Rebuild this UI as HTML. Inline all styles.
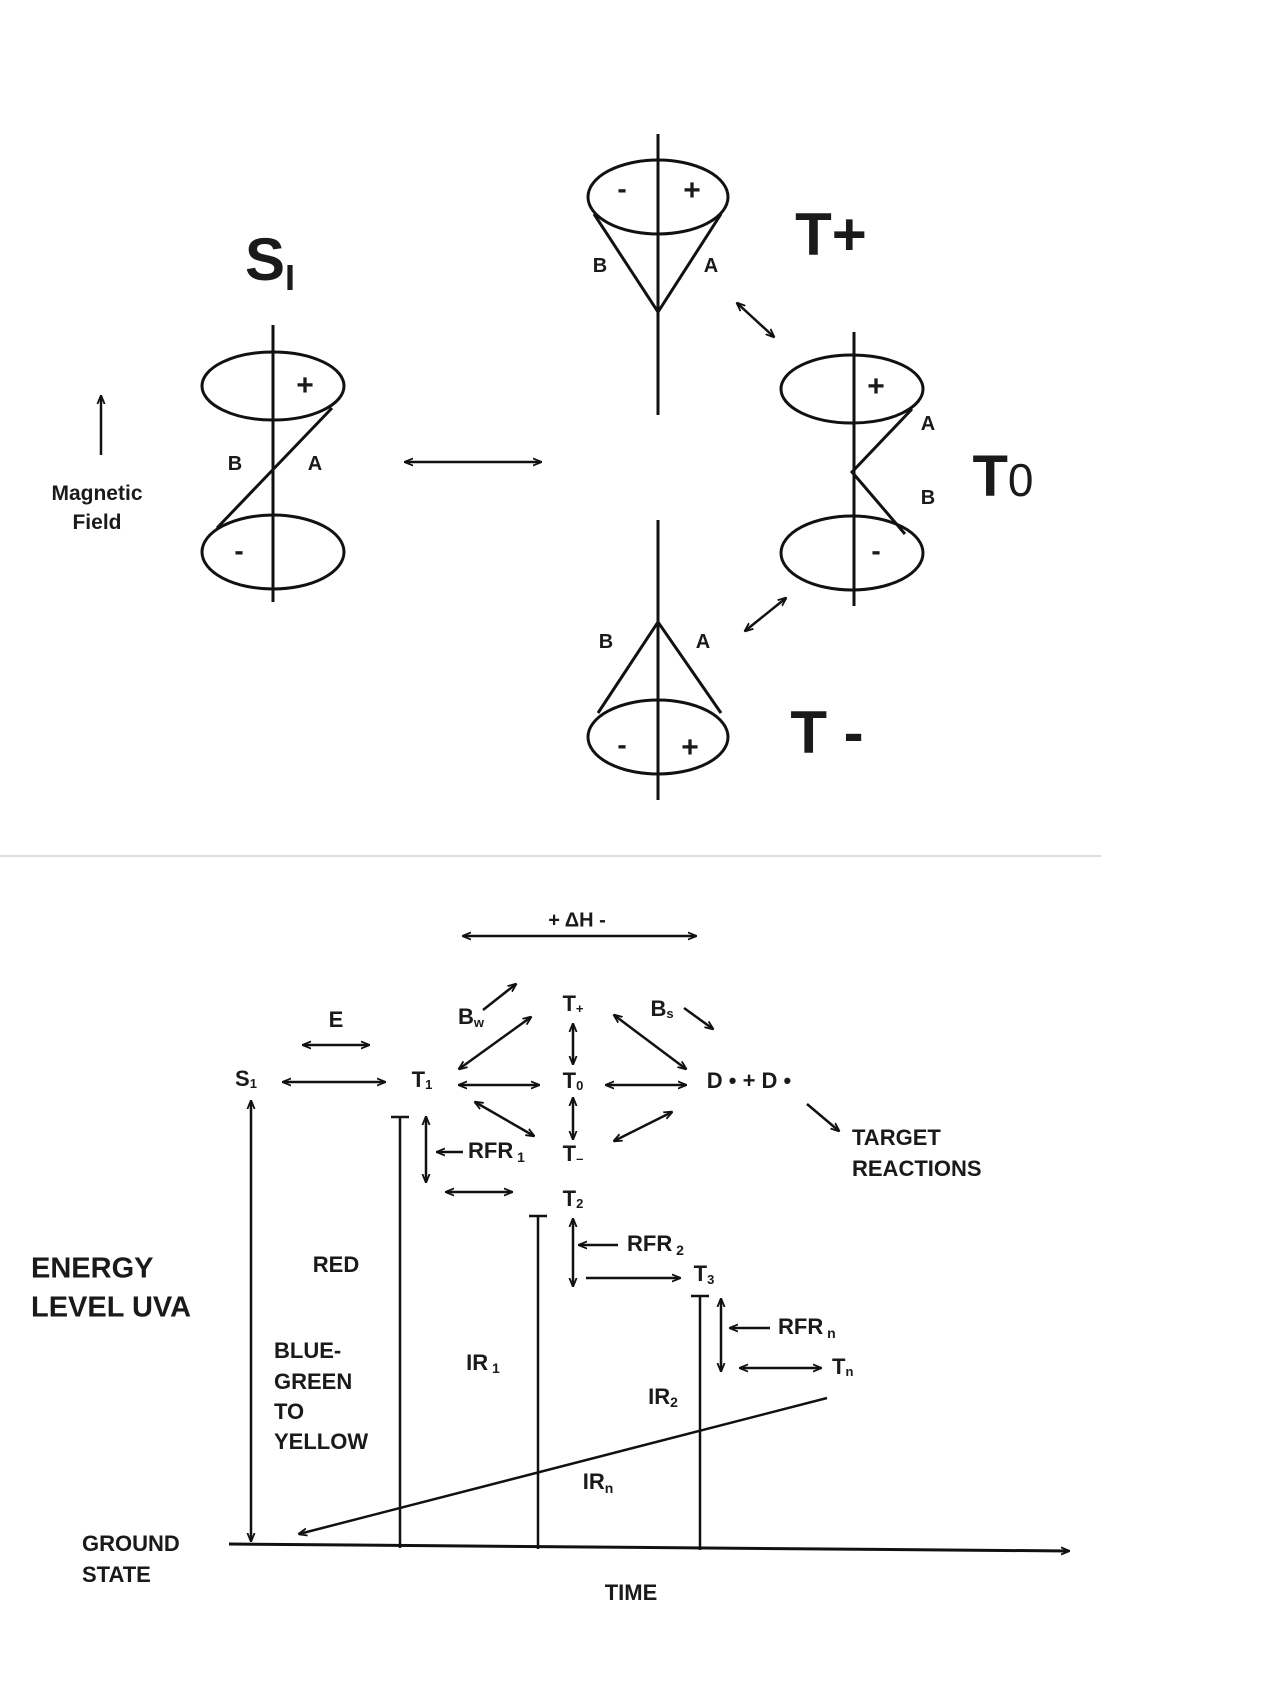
<!DOCTYPE html>
<html><head><meta charset="utf-8"><style>
html,body{margin:0;padding:0;background:#fff}
svg{display:block}
text{font-family:"Liberation Sans",Arial,sans-serif;font-weight:bold;fill:#1a1a1a}
</style></head><body>
<svg width="1284" height="1688" viewBox="0 0 1284 1688" xmlns="http://www.w3.org/2000/svg">
<defs>
<marker id="a" viewBox="0 0 10 10" refX="9" refY="5" markerWidth="9" markerHeight="9" orient="auto-start-reverse" markerUnits="userSpaceOnUse">
<path d="M0,1 L10,5 L0,9" fill="none" stroke="#111" stroke-width="2"/>
</marker>
</defs>
<g stroke="#111" stroke-width="3" fill="none">
<!-- S1 -->
<line x1="273" y1="325" x2="273" y2="602"/>
<ellipse cx="273" cy="386" rx="71" ry="34"/>
<ellipse cx="273" cy="552" rx="71" ry="37"/>
<polyline points="332,408 217,528"/>
<line x1="101" y1="455" x2="101" y2="396" marker-end="url(#a)" stroke-width="2.5"/>
<line x1="405" y1="462" x2="541" y2="462" marker-start="url(#a)" marker-end="url(#a)" stroke-width="2.5"/>
<!-- T+ -->
<line x1="658" y1="134" x2="658" y2="415"/>
<ellipse cx="658" cy="197" rx="70" ry="37"/>
<polyline points="594,214 658,312 721,214"/>
<line x1="737" y1="303" x2="774" y2="337" marker-start="url(#a)" marker-end="url(#a)" stroke-width="2.5"/>
<!-- T0 -->
<line x1="854" y1="332" x2="854" y2="606"/>
<ellipse cx="852" cy="389" rx="71" ry="34"/>
<ellipse cx="852" cy="553" rx="71" ry="37"/>
<polyline points="912,409 852,472 905,534"/>
<line x1="745" y1="631" x2="786" y2="598" marker-start="url(#a)" marker-end="url(#a)" stroke-width="2.5"/>
<!-- T- -->
<line x1="658" y1="520" x2="658" y2="800"/>
<ellipse cx="658" cy="737" rx="70" ry="37"/>
<polyline points="598,713 658,622 721,713"/>
</g>
<line x1="0" y1="856" x2="1101" y2="856" stroke="#ddd" stroke-width="2"/>
<g font-size="24">
<text x="270" y="280" font-size="60" text-anchor="middle">S<tspan font-size="36" dy="10">I</tspan></text>
<text x="305" y="395" text-anchor="middle" font-size="30">+</text>
<text x="239" y="560" text-anchor="middle" font-size="28">-</text>
<text x="235" y="470" text-anchor="middle" font-size="20">B</text>
<text x="315" y="470" text-anchor="middle" font-size="20">A</text>
<text x="97" y="500" text-anchor="middle" font-size="21">Magnetic</text>
<text x="97" y="529" text-anchor="middle" font-size="21">Field</text>
<text x="622" y="198" text-anchor="middle" font-size="28">-</text>
<text x="692" y="200" text-anchor="middle" font-size="30">+</text>
<text x="600" y="272" text-anchor="middle" font-size="20">B</text>
<text x="711" y="272" text-anchor="middle" font-size="20">A</text>
<text x="831" y="255" text-anchor="middle" font-size="60">T+</text>
<text x="876" y="396" text-anchor="middle" font-size="30">+</text>
<text x="876" y="560" text-anchor="middle" font-size="28">-</text>
<text x="928" y="430" text-anchor="middle" font-size="20">A</text>
<text x="928" y="504" text-anchor="middle" font-size="20">B</text>
<text x="1003" y="496" text-anchor="middle" font-size="58">T<tspan font-weight="normal" font-size="46">0</tspan></text>
<text x="622" y="754" text-anchor="middle" font-size="28">-</text>
<text x="690" y="757" text-anchor="middle" font-size="30">+</text>
<text x="606" y="648" text-anchor="middle" font-size="20">B</text>
<text x="703" y="648" text-anchor="middle" font-size="20">A</text>
<text x="827" y="753" text-anchor="middle" font-size="60">T -</text>
</g>
<!-- bottom diagram -->
<g stroke="#111" stroke-width="2.5" fill="none">
<line x1="463" y1="936" x2="696" y2="936" marker-start="url(#a)" marker-end="url(#a)"/>
<line x1="303" y1="1045" x2="369" y2="1045" marker-start="url(#a)" marker-end="url(#a)"/>
<line x1="283" y1="1082" x2="385" y2="1082" marker-start="url(#a)" marker-end="url(#a)"/>
<line x1="459" y1="1085" x2="539" y2="1085" marker-start="url(#a)" marker-end="url(#a)"/>
<line x1="606" y1="1085" x2="686" y2="1085" marker-start="url(#a)" marker-end="url(#a)"/>
<line x1="573" y1="1024" x2="573" y2="1064" marker-start="url(#a)" marker-end="url(#a)"/>
<line x1="573" y1="1098" x2="573" y2="1139" marker-start="url(#a)" marker-end="url(#a)"/>
<line x1="483" y1="1010" x2="516" y2="984" marker-end="url(#a)"/>
<line x1="459" y1="1069" x2="531" y2="1017" marker-start="url(#a)" marker-end="url(#a)"/>
<line x1="684" y1="1008" x2="713" y2="1029" marker-end="url(#a)"/>
<line x1="614" y1="1015" x2="686" y2="1069" marker-start="url(#a)" marker-end="url(#a)"/>
<line x1="475" y1="1102" x2="534" y2="1136" marker-start="url(#a)" marker-end="url(#a)"/>
<line x1="614" y1="1141" x2="672" y2="1112" marker-start="url(#a)" marker-end="url(#a)"/>
<line x1="807" y1="1104" x2="839" y2="1131" marker-end="url(#a)"/>
<!-- verticals -->
<line x1="400" y1="1117" x2="400" y2="1548"/>
<line x1="391" y1="1117" x2="409" y2="1117"/>
<line x1="538" y1="1216" x2="538" y2="1549"/>
<line x1="529" y1="1216" x2="547" y2="1216"/>
<line x1="700" y1="1296" x2="700" y2="1550"/>
<line x1="691" y1="1296" x2="709" y2="1296"/>
<line x1="426" y1="1117" x2="426" y2="1182" marker-start="url(#a)" marker-end="url(#a)"/>
<line x1="463" y1="1152" x2="437" y2="1152" marker-end="url(#a)"/>
<line x1="446" y1="1192" x2="512" y2="1192" marker-start="url(#a)" marker-end="url(#a)"/>
<line x1="573" y1="1219" x2="573" y2="1286" marker-start="url(#a)" marker-end="url(#a)"/>
<line x1="618" y1="1245" x2="579" y2="1245" marker-end="url(#a)"/>
<line x1="586" y1="1278" x2="680" y2="1278" marker-end="url(#a)"/>
<line x1="721" y1="1299" x2="721" y2="1371" marker-start="url(#a)" marker-end="url(#a)"/>
<line x1="770" y1="1328" x2="730" y2="1328" marker-end="url(#a)"/>
<line x1="740" y1="1368" x2="821" y2="1368" marker-start="url(#a)" marker-end="url(#a)"/>
<line x1="827" y1="1398" x2="299" y2="1534" marker-end="url(#a)"/>
<line x1="251" y1="1101" x2="251" y2="1541" marker-start="url(#a)" marker-end="url(#a)"/>
<line x1="229" y1="1544" x2="1069" y2="1551" marker-end="url(#a)" stroke-width="3"/>
</g>
<g font-size="22" dominant-baseline="middle">
<text x="577" y="921" text-anchor="middle" font-size="20">+ ΔH -</text>
<text x="336" y="1021" text-anchor="middle">E</text>
<text x="246" y="1080" text-anchor="middle">S<tspan font-size="13" dy="5">1</tspan></text>
<text x="422" y="1081" text-anchor="middle">T<tspan font-size="13" dy="5">1</tspan></text>
<text x="573" y="1082" text-anchor="middle">T<tspan font-size="13" dy="5">0</tspan></text>
<text x="573" y="1005" text-anchor="middle">T<tspan font-size="13" dy="5">+</tspan></text>
<text x="573" y="1155" text-anchor="middle">T<tspan font-size="13" dy="5">–</tspan></text>
<text x="471" y="1018" text-anchor="middle">B<tspan font-size="13" dy="6">w</tspan></text>
<text x="662" y="1010" text-anchor="middle">B<tspan font-size="13" dy="5">s</tspan></text>
<text x="749" y="1082" text-anchor="middle">D • + D •</text>
<text x="852" y="1139">TARGET</text>
<text x="852" y="1170">REACTIONS</text>
<text x="468" y="1152">RFR<tspan font-size="14" dy="6"> 1</tspan></text>
<text x="573" y="1200" text-anchor="middle">T<tspan font-size="13" dy="5">2</tspan></text>
<text x="627" y="1245">RFR<tspan font-size="14" dy="6"> 2</tspan></text>
<text x="704" y="1275" text-anchor="middle">T<tspan font-size="13" dy="6">3</tspan></text>
<text x="778" y="1328">RFR<tspan font-size="14" dy="6"> n</tspan></text>
<text x="832" y="1368">T<tspan font-size="13" dy="5">n</tspan></text>
<text x="31" y="1270" font-size="29">ENERGY</text>
<text x="31" y="1309" font-size="29">LEVEL UVA</text>
<text x="336" y="1266" text-anchor="middle">RED</text>
<text x="274" y="1352">BLUE-</text>
<text x="274" y="1383">GREEN</text>
<text x="274" y="1413">TO</text>
<text x="274" y="1443">YELLOW</text>
<text x="483" y="1364" text-anchor="middle">IR<tspan font-size="14" dy="5"> 1</tspan></text>
<text x="663" y="1398" text-anchor="middle">IR<tspan font-size="14" dy="5">2</tspan></text>
<text x="598" y="1483" text-anchor="middle">IR<tspan font-size="14" dy="6">n</tspan></text>
<text x="82" y="1545">GROUND</text>
<text x="82" y="1576">STATE</text>
<text x="631" y="1594" text-anchor="middle">TIME</text>
</g>
</svg>
</body></html>
